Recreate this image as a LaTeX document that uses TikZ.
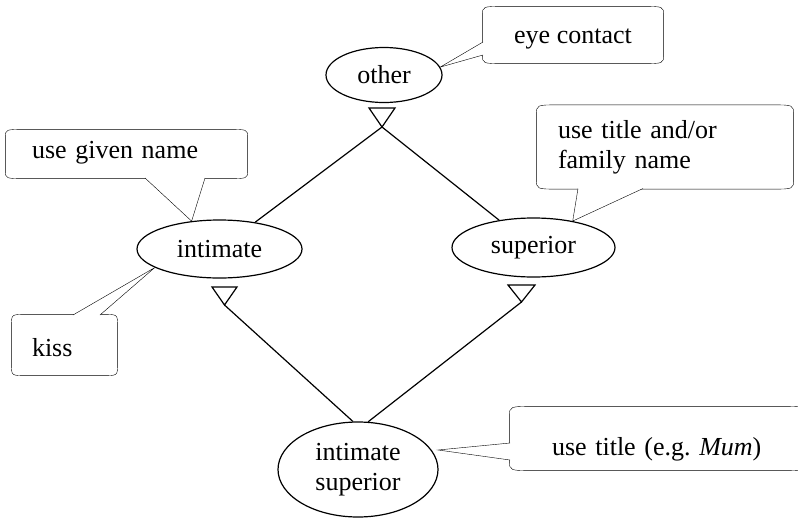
\documentclass[tikz,border=0pt]{standalone}
\usepackage{fontspec}
\setmainfont{Liberation Serif}
\usetikzlibrary{shapes.geometric,backgrounds}

% Outline of a speech bubble around node #1; #2/#3 = horizontal/vertical size of the corner curves
\newcommand\bubbleoutline[3]{%
  \draw ([yshift=-#3pt]#1.north west) .. controls (#1.north west) .. ([xshift=#2pt]#1.north west)
     -- ([xshift=-#2pt]#1.north east) .. controls (#1.north east) .. ([yshift=-#3pt]#1.north east)
     -- ([yshift=#3pt]#1.south east) .. controls (#1.south east) .. ([xshift=-#2pt]#1.south east)
     -- ([xshift=#2pt]#1.south west) .. controls (#1.south west) .. ([yshift=#3pt]#1.south west)
     -- cycle;}

% Pointer of a bubble: base points #1 and #2 on the outline, tip #3, (#4,#5) points into the bubble
\newcommand\bubblepointer[5]{%
  \fill[white] ([shift={(#4,#5)}]#1) -- (#1) -- (#3) -- (#2) -- ([shift={(#4,#5)}]#2) -- cycle;
  \draw[line join=miter] (#1) -- (#3) -- (#2);}

\tikzset{
  role/.style={ellipse, draw, inner sep=0pt, align=center},
  note/.style={rectangle, inner sep=0pt, align=center},
  leftnote/.style={rectangle, inner ysep=0pt, align=left},
  marker/.style={draw, line join=miter}
}

\begin{document}
\begin{tikzpicture}[x=1pt, y=-1pt, line width=1.2pt, font=\fontsize{26}{30}\selectfont]
  \useasboundingbox (0,0) rectangle (798,517);

  % roles
  \node[role, minimum width=116, minimum height=55] (other)    at (384,75)    {other};
  \node[role, minimum width=165, minimum height=58] (intimate) at (219.5,249) {intimate};
  \node[role, minimum width=163, minimum height=59] (superior) at (533.5,247.5) {superior};
  \node[role, minimum width=160, minimum height=95] (intsup)   at (358,469.5) {intimate\\superior};

  % notes
  \node[note, minimum width=180, minimum height=56, text height=16pt, text depth=0pt] (eye) at (573,35) {eye contact};
  \node[leftnote, inner xsep=26, text width=189, minimum height=48, text height=8pt, text depth=0pt] (given) at (126.5,154) {use given name};
  \node[leftnote, inner xsep=20, text width=65, minimum height=60, text height=22pt, text depth=0pt] (kiss) at (64.5,345) {kiss};
  \node[leftnote, inner xsep=21, text width=214, minimum height=83] (family) at (665,147) {use title and/or\\family name};
  \node[leftnote, inner xsep=42, text width=211, minimum height=63, text height=34pt, text depth=0pt] (mum) at (657.5,438.5)
    {\makebox[211pt][l]{use title (e.g.\ \textit{Mum})}};

  % generalisation markers
  \coordinate (tO) at (382,127);
  \coordinate (tI) at (224.5,305);
  \coordinate (tS) at (521.5,302);
  \draw[marker] (369,108) -- (395,108) -- (tO) -- cycle;
  \draw[marker] (212,287) -- (237,287) -- (tI) -- cycle;
  \draw[marker] (508,285) -- (535,285) -- (tS) -- cycle;

  % hierarchy lines
  \draw (tO) -- (intimate);
  \draw (tO) -- (superior);
  \draw (tI) -- (intsup.96);
  \draw (tS) -- (intsup.78);

  % pointer base points and tips
  \coordinate (eb1) at (483,42);  \coordinate (eb2) at (483,55);
  \coordinate (gb1) at (145,178); \coordinate (gb2) at (205,178);
  \coordinate (kb1) at (73,315);  \coordinate (kb2) at (100,315);
  \coordinate (fb1) at (578,188.5); \coordinate (fb2) at (643,188.5);
  \coordinate (mb1) at (510,443); \coordinate (mb2) at (510,460);
  \coordinate (mtip) at (438,450);

  \begin{pgfonlayer}{background}
    \bubbleoutline{eye}{22}{9}
    \bubbleoutline{given}{20}{8}
    \bubbleoutline{kiss}{14}{12}
    \bubbleoutline{family}{22}{10}
    \bubbleoutline{mum}{25}{10}
    \bubblepointer{eb1}{eb2}{other.8}{2}{0}
    \bubblepointer{gb1}{gb2}{intimate.135}{0}{-2}
    \bubblepointer{kb1}{kb2}{intimate.196}{0}{2}
    \bubblepointer{fb1}{fb2}{superior.34}{0}{-2}
    \bubblepointer{mb1}{mb2}{mtip}{2}{0}
  \end{pgfonlayer}
\end{tikzpicture}
\end{document}
